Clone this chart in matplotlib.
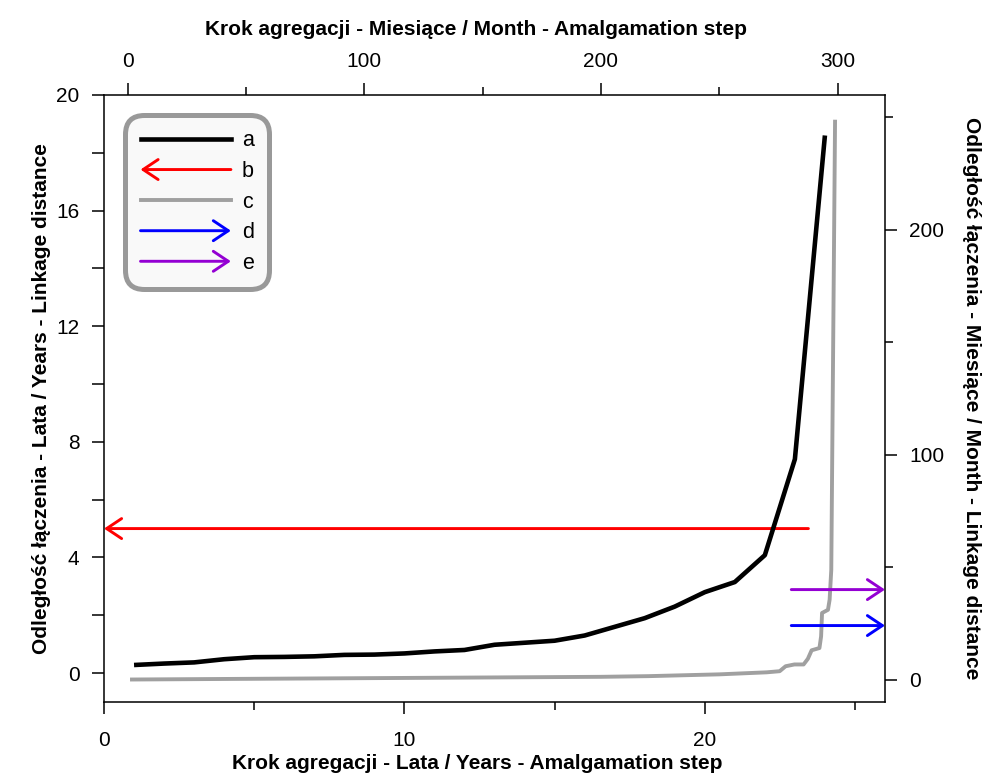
"""
Linkage distance vs amalgamation step for yearly and monthly clustering
"""

import numpy as np
import matplotlib
matplotlib.use("Agg")
import matplotlib.pyplot as plt
from matplotlib.lines import Line2D
from matplotlib.patches import FancyArrowPatch
from matplotlib.legend_handler import HandlerBase
from matplotlib.ticker import MultipleLocator, FixedLocator

plt.rcParams['font.family'] = ['Liberation Sans', 'DejaVu Sans']

# yearly series (bottom / left axes)
years_step = [1, 2, 3, 4, 5, 6, 7, 8, 9, 10, 11, 12, 13, 14, 15, 16, 17, 18, 19, 20, 21, 22, 23, 24]
years_dist = [0.28, 0.33, 0.37, 0.48, 0.55, 0.56, 0.58, 0.63, 0.64, 0.68, 0.75, 0.80, 0.98,
              1.05, 1.12, 1.30, 1.60, 1.90, 2.30, 2.80, 3.15, 4.08, 7.40, 18.6]

# monthly series (top / right axes)
months_step = [1, 50, 100, 150, 200, 220, 250, 270, 275.5, 278, 281.7, 285.6, 287.4, 289,
               292.3, 293, 293.4, 295.9, 296.6, 297.3, 298.9]
months_dist = [0.0, 0.3, 0.6, 0.9, 1.2, 1.5, 2.3, 3.2, 3.7, 5.9, 6.7, 6.7, 9.2, 13.0,
               14.0, 19.2, 29.6, 31.0, 35.5, 48.8, 249.0]

# cut-off arrows
b_level, b_from, b_to = 5.0, 23.45, 0.0          # years axes
d_level, d_from, d_to = 24.0, 280.4, 320.0       # months axes
e_level, e_from, e_to = 40.0, 280.4, 320.0       # months axes

labels = ['a', 'b', 'c', 'd', 'e']

RED = '#FF0000'
BLUE = '#0000FF'
PURPLE = '#9400D3'
GREY = '#A0A0A0'

ARROW = '->,head_length=0.6,head_width=0.4'


class ArrowHandler(HandlerBase):
    """Draw an arrow in the legend, pointing left or right."""

    def __init__(self, left=False):
        super().__init__()
        self.left = left

    def create_artists(self, legend, orig_handle, xdescent, ydescent, width, height, fontsize, trans):
        y = -ydescent + height / 2
        x0, x1 = -xdescent, -xdescent + width
        if self.left:
            x0, x1 = x1, x0
        arr = FancyArrowPatch((x0, y), (x1, y), arrowstyle=ARROW, mutation_scale=18,
                              color=orig_handle.get_edgecolor(), lw=orig_handle.get_linewidth(),
                              shrinkA=0, shrinkB=0, transform=trans)
        return [arr]


fig = plt.figure(figsize=(9.85, 7.74), dpi=100)
W, H = 985, 774
ax = fig.add_axes([104 / W, (H - 702) / H, 781 / W, 607 / H])
ax2 = fig.add_axes(ax.get_position(), frameon=False)

# years
ax.annotate('', xy=(b_to, b_level), xytext=(b_from, b_level),
            arrowprops=dict(arrowstyle=ARROW, color=RED, lw=2.1, mutation_scale=18,
                            shrinkA=0, shrinkB=0), zorder=3)
ax.plot(years_step, years_dist, color='black', lw=3.3, zorder=4, solid_capstyle='butt')
ax.set_xlim(0, 26)
ax.set_ylim(-1, 20)

# months
ax2.plot(months_step, months_dist, color=GREY, lw=2.8, zorder=2, solid_capstyle='butt')
for lev, x0, x1, col in [(d_level, d_from, d_to, BLUE), (e_level, e_from, e_to, PURPLE)]:
    ax2.annotate('', xy=(x1, lev), xytext=(x0, lev),
                 arrowprops=dict(arrowstyle=ARROW, color=col, lw=2.1, mutation_scale=18,
                                 shrinkA=0, shrinkB=0), zorder=3, annotation_clip=False)
ax2.set_xlim(-10, 320)
ax2.set_ylim(-10, 260)
ax2.xaxis.tick_top()
ax2.yaxis.tick_right()
ax2.xaxis.set_label_position('top')
ax2.yaxis.set_label_position('right')

# ticks
ax.xaxis.set_major_locator(MultipleLocator(10))
ax.xaxis.set_minor_locator(FixedLocator([5, 15, 25]))
ax.yaxis.set_major_locator(MultipleLocator(4))
ax.yaxis.set_minor_locator(FixedLocator([2, 6, 10, 14, 18]))
ax2.xaxis.set_major_locator(MultipleLocator(100))
ax2.xaxis.set_minor_locator(FixedLocator([50, 150, 250]))
ax2.yaxis.set_major_locator(MultipleLocator(100))
ax2.yaxis.set_minor_locator(FixedLocator([50, 150, 250]))

for a in (ax, ax2):
    a.tick_params(which='major', length=8.6, width=1.1, labelsize=15, pad=12, direction='out')
    a.tick_params(which='minor', length=5.8, width=1.1, direction='out')
ax.tick_params(axis='y', which='minor', length=8.6)
ax.tick_params(axis='y', pad=9)
ax2.tick_params(axis='y', pad=9)
ax2.tick_params(axis='x', pad=9)
for s in ax.spines.values():
    s.set_linewidth(1.1)

lab = dict(fontsize=15, fontweight='bold')
ax.set_xlabel('Krok agregacji - Lata / Years - Amalgamation step', labelpad=3, **lab)
ax.set_ylabel('Odległość łączenia - Lata / Years - Linkage distance', labelpad=4, **lab)
ax2.set_xlabel('Krok agregacji - Miesiące / Month - Amalgamation step', labelpad=12, **lab)
ax2.set_ylabel('Odległość łączenia - Miesiące / Month - Linkage distance', rotation=-90,
               labelpad=26, **lab)
ax.xaxis.label.set_x((477 - 104) / 781)
ax2.xaxis.label.set_x((476 - 104) / 781)

# legend
h_a = Line2D([], [], color='black', lw=3.3)
h_b = FancyArrowPatch((0, 0), (1, 0), color=RED, lw=2.1)
h_c = Line2D([], [], color=GREY, lw=2.8)
h_d = FancyArrowPatch((0, 0), (1, 0), color=BLUE, lw=2.1)
h_e = FancyArrowPatch((0, 0), (1, 0), color=PURPLE, lw=2.1)
leg = ax.legend([h_a, h_b, h_c, h_d, h_e], labels,
                handler_map={h_b: ArrowHandler(left=True), h_d: ArrowHandler(), h_e: ArrowHandler()},
                loc='upper left', bbox_to_anchor=(21 / 781, 1 - 20 / 607), borderaxespad=0,
                fontsize=15.5, handlelength=4.2, handletextpad=0.5, labelspacing=0.445,
                borderpad=0.72, fancybox=True, framealpha=1)
frame = leg.get_frame()
frame.set_facecolor('#F9F9F9')
frame.set_edgecolor('#999999')
frame.set_linewidth(3.6)
frame.set_boxstyle('round,pad=0,rounding_size=0.9')
leg.set_zorder(10)

fig.savefig('out.png', dpi=100)
